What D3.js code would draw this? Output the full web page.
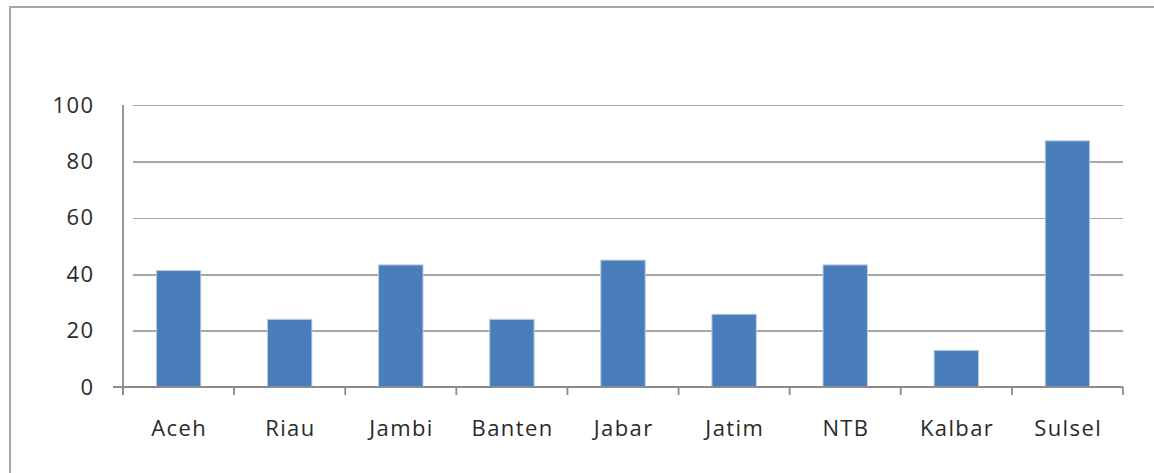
<!DOCTYPE html>
<html>
<head>
<meta charset="utf-8">
<script src="https://cdn.jsdelivr.net/npm/d3@7"></script>
<style>
  html, body { margin: 0; padding: 0; background: #fff; }
  svg { display: block; }
</style>
</head>
<body>
<svg id="chart" width="1154" height="473"></svg>
<script>
// Provinces and their values
const categories = ["Aceh", "Riau", "Jambi", "Banten", "Jabar", "Jatim", "NTB", "Kalbar", "Sulsel"];
const values = [41.3, 24.0, 43.3, 24.0, 45.0, 25.8, 43.3, 13.0, 87.3];
const yTicks = [0, 20, 40, 60, 80, 100];

const svg = d3.select("#chart");
const W = 1154, H = 473;
const margin = { left: 123, right: 31, top: 105, bottom: 86 };

// outer frame
svg.append("rect")
  .attr("x", 10).attr("y", 7)
  .attr("width", W + 20).attr("height", H + 20)
  .attr("fill", "none")
  .attr("stroke", "#a6a6a6")
  .attr("stroke-width", 2);

const x = d3.scaleBand()
  .domain(categories)
  .range([margin.left, W - margin.right])
  .paddingInner(0.6)
  .paddingOuter(0.3);

const y = d3.scaleLinear()
  .domain([0, 100])
  .range([H - margin.bottom, margin.top]);

const font = "'Open Sans', 'Liberation Sans', sans-serif";
const spacing = 1.4;

// horizontal gridlines with left tick stubs
svg.append("g")
  .attr("transform", `translate(${margin.left},0)`)
  .call(d3.axisLeft(y).tickValues(yTicks).tickSize(-(W - margin.left - margin.right)).tickFormat(""))
  .call(g => g.select(".domain").remove())
  .call(g => g.selectAll("line")
    .attr("x1", 10)
    .attr("stroke", "#a6a6a6").attr("stroke-width", 1.6)
    .attr("shape-rendering", "crispEdges"));

// left tick labels
svg.append("g")
  .attr("transform", `translate(${margin.left},0)`)
  .call(d3.axisLeft(y).tickValues(yTicks).tickSize(0).tickPadding(30 - spacing))
  .call(g => g.select(".domain").remove())
  .call(g => g.selectAll("text")
    .attr("font-family", font)
    .attr("font-size", 22)
    .attr("letter-spacing", spacing)
    .attr("fill", "#2a2a2a"));

// bars
svg.append("g")
  .selectAll("rect")
  .data(categories)
  .join("rect")
  .attr("x", d => x(d))
  .attr("width", x.bandwidth())
  .attr("y", (d, i) => y(values[i]))
  .attr("height", (d, i) => y(0) - y(values[i]))
  .attr("fill", "#4a7ebb")
  .attr("stroke", "#b9cde5")
  .attr("stroke-width", 1);

// y axis line
svg.append("line")
  .attr("x1", margin.left).attr("x2", margin.left)
  .attr("y1", y(100)).attr("y2", y(0) + 8)
  .attr("stroke", "#8c8c8c").attr("stroke-width", 1.8);

// x axis with category boundary ticks
const boundaries = d3.range(categories.length + 1).map(i => margin.left + i * (W - margin.left - margin.right) / categories.length);
svg.append("line")
  .attr("x1", margin.left - 10).attr("x2", W - margin.right)
  .attr("y1", y(0)).attr("y2", y(0))
  .attr("stroke", "#8c8c8c").attr("stroke-width", 1.8);
svg.append("g")
  .selectAll("line")
  .data(boundaries)
  .join("line")
  .attr("x1", d => d).attr("x2", d => d)
  .attr("y1", y(0)).attr("y2", y(0) + 8)
  .attr("stroke", "#8c8c8c").attr("stroke-width", 1.8);

// category labels
svg.append("g")
  .attr("transform", `translate(0,${y(0)})`)
  .call(d3.axisBottom(x).tickSize(0).tickPadding(33))
  .call(g => g.select(".domain").remove())
  .call(g => g.selectAll("text")
    .attr("font-family", font)
    .attr("font-size", 22)
    .attr("letter-spacing", spacing)
    .attr("dx", spacing / 2)
    .attr("fill", "#2a2a2a"));
</script>
</body>
</html>
